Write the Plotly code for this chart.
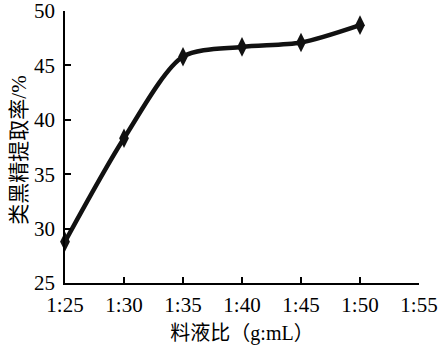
import plotly.graph_objects as go

x_vals = [25, 30, 35, 40, 45, 50]
y_vals = [28.8, 38.3, 45.8, 46.7, 47.1, 48.7]
x_tick_vals = [25, 30, 35, 40, 45, 50, 55]
x_tick_text = ["1:25", "1:30", "1:35", "1:40", "1:45", "1:50", "1:55"]
y_tick_vals = [25, 30, 35, 40, 45, 50]
x_title = "料液比（g:mL）"
y_title = "类黑精提取率/%"

serif = "Liberation Serif, Times New Roman, serif"
cjk = "Liberation Serif, Noto Sans CJK SC, serif"

fig = go.Figure()
fig.add_trace(go.Scatter(
    x=x_vals, y=y_vals, mode="lines+markers",
    line=dict(color="#111111", width=4.5, shape="spline", smoothing=0.8),
    marker=dict(symbol="diamond-tall", size=14, color="#111111"),
    showlegend=False, cliponaxis=False,
))

fig.update_layout(
    width=441, height=350,
    margin=dict(l=65, r=22, t=11, b=67),
    paper_bgcolor="white", plot_bgcolor="white",
    font=dict(family=serif, size=21, color="black"),
)
fig.add_annotation(
    text=y_title, textangle=-90, xref="paper", yref="paper",
    x=-0.13, y=0.49, xanchor="center", yanchor="middle", showarrow=False,
    font=dict(family=cjk, size=21),
)
fig.update_xaxes(
    range=[25, 55], tickvals=x_tick_vals, ticktext=x_tick_text,
    ticks="inside", ticklen=6, tickwidth=1.5, tickcolor="black",
    showline=True, linecolor="black", linewidth=1.5,
    showgrid=False, zeroline=False, ticklabelstandoff=2,
    ticklabeloverflow="allow", automargin=False,
    title=dict(text=x_title, font=dict(family=cjk, size=20), standoff=10),
)
fig.update_yaxes(
    range=[25, 50], tickvals=y_tick_vals,
    ticks="inside", ticklen=6, tickwidth=1.5, tickcolor="black",
    showline=True, linecolor="black", linewidth=1.5,
    showgrid=False, zeroline=False, ticklabelstandoff=4,
    ticklabeloverflow="allow", automargin=False,
)
fig.write_html("out.html")
